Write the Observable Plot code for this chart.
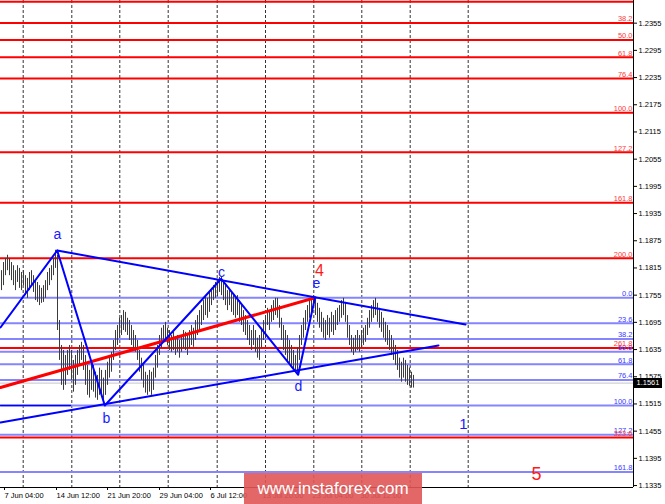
<!DOCTYPE html>
<html><head><meta charset="utf-8">
<script src="https://cdn.jsdelivr.net/npm/d3@7"></script>
<script src="https://cdn.jsdelivr.net/npm/@observablehq/plot@0.6"></script>
<style>
body{margin:0;background:#fff;}
#wrap{position:relative;width:665px;height:504px;overflow:hidden;font-family:"Liberation Sans",Arial,sans-serif;}
#wm{position:absolute;left:244px;top:473px;width:178px;height:31px;background:rgba(224,86,86,0.9);color:#fff;font-size:17px;line-height:31px;text-align:center;}
#pbox{position:absolute;left:634px;width:28px;height:10px;background:#000;color:#fff;font-size:7.5px;line-height:10px;text-align:center;}
</style></head>
<body><div id="wrap"></div>
<script>
// ---- price bars (H4), highs and lows ----
const barHigh = [1.1809,1.1827,1.1836,1.1843,1.1836,1.1827,1.1820,1.1809,1.1820,1.1814,1.1805,1.1809,1.1798,1.1792,1.1805,1.1809,1.1798,1.1787,1.1783,1.1776,1.1770,1.1776,1.1787,1.1805,1.1814,1.1820,1.1836,1.1854,1.1843,1.1699,1.1644,1.1633,1.1622,1.1633,1.1644,1.1633,1.1611,1.1622,1.1633,1.1644,1.1651,1.1644,1.1622,1.1600,1.1589,1.1607,1.1600,1.1585,1.1578,1.1594,1.1589,1.1572,1.1589,1.1607,1.1616,1.1629,1.1655,1.1677,1.1688,1.1704,1.1710,1.1721,1.1717,1.1704,1.1699,1.1688,1.1677,1.1666,1.1655,1.1633,1.1616,1.1600,1.1585,1.1578,1.1589,1.1585,1.1594,1.1622,1.1644,1.1666,1.1682,1.1688,1.1695,1.1682,1.1677,1.1666,1.1673,1.1660,1.1666,1.1655,1.1666,1.1677,1.1673,1.1666,1.1677,1.1688,1.1682,1.1699,1.1710,1.1721,1.1732,1.1743,1.1754,1.1748,1.1761,1.1770,1.1776,1.1783,1.1787,1.1794,1.1794,1.1783,1.1776,1.1765,1.1770,1.1761,1.1754,1.1748,1.1754,1.1743,1.1732,1.1721,1.1710,1.1699,1.1688,1.1677,1.1688,1.1677,1.1660,1.1666,1.1682,1.1699,1.1710,1.1726,1.1717,1.1732,1.1743,1.1748,1.1748,1.1732,1.1704,1.1688,1.1677,1.1666,1.1655,1.1644,1.1633,1.1622,1.1638,1.1666,1.1688,1.1704,1.1721,1.1732,1.1743,1.1752,1.1754,1.1748,1.1737,1.1726,1.1717,1.1704,1.1699,1.1710,1.1704,1.1717,1.1710,1.1721,1.1726,1.1732,1.1743,1.1748,1.1739,1.1710,1.1688,1.1666,1.1660,1.1666,1.1677,1.1666,1.1677,1.1682,1.1688,1.1704,1.1721,1.1732,1.1743,1.1748,1.1737,1.1726,1.1717,1.1704,1.1695,1.1688,1.1677,1.1666,1.1655,1.1644,1.1633,1.1616,1.1607,1.1616,1.1611,1.1600,1.1594,1.1585,1.1578];
const barLow = [1.1765,1.1776,1.1798,1.1809,1.1798,1.1787,1.1776,1.1765,1.1783,1.1770,1.1765,1.1776,1.1754,1.1748,1.1765,1.1776,1.1761,1.1743,1.1739,1.1732,1.1737,1.1739,1.1748,1.1765,1.1776,1.1787,1.1798,1.1814,1.1677,1.1611,1.1556,1.1545,1.1556,1.1578,1.1589,1.1567,1.1541,1.1556,1.1578,1.1600,1.1611,1.1589,1.1556,1.1534,1.1528,1.1545,1.1541,1.1528,1.1523,1.1534,1.1530,1.1516,1.1534,1.1556,1.1572,1.1585,1.1611,1.1633,1.1644,1.1660,1.1666,1.1677,1.1673,1.1666,1.1655,1.1644,1.1633,1.1629,1.1611,1.1585,1.1567,1.1550,1.1539,1.1534,1.1541,1.1534,1.1545,1.1572,1.1594,1.1622,1.1638,1.1651,1.1655,1.1644,1.1633,1.1629,1.1633,1.1622,1.1629,1.1616,1.1629,1.1638,1.1633,1.1622,1.1638,1.1644,1.1640,1.1655,1.1666,1.1677,1.1688,1.1699,1.1710,1.1704,1.1717,1.1732,1.1743,1.1748,1.1752,1.1761,1.1754,1.1743,1.1732,1.1721,1.1732,1.1717,1.1710,1.1704,1.1710,1.1695,1.1688,1.1673,1.1666,1.1655,1.1644,1.1633,1.1644,1.1629,1.1616,1.1611,1.1638,1.1655,1.1666,1.1688,1.1677,1.1695,1.1699,1.1710,1.1704,1.1682,1.1655,1.1633,1.1622,1.1607,1.1600,1.1594,1.1589,1.1585,1.1582,1.1611,1.1644,1.1660,1.1677,1.1695,1.1704,1.1717,1.1726,1.1710,1.1695,1.1682,1.1673,1.1660,1.1655,1.1666,1.1660,1.1673,1.1666,1.1677,1.1688,1.1695,1.1704,1.1710,1.1695,1.1660,1.1644,1.1629,1.1622,1.1629,1.1633,1.1629,1.1638,1.1644,1.1651,1.1666,1.1682,1.1695,1.1704,1.1710,1.1695,1.1682,1.1673,1.1660,1.1651,1.1644,1.1633,1.1622,1.1611,1.1600,1.1589,1.1572,1.1563,1.1572,1.1563,1.1556,1.1554,1.1550,1.1550];
const lastPrice = 1.1561;

// ---- axes ----
const yTicks = [1.1335,1.1395,1.1455,1.1515,1.1575,1.1635,1.1695,1.1755,1.1815,1.1875,1.1935,1.1995,1.2055,1.2115,1.2175,1.2235,1.2295,1.2355];
const xTickBars = [2,28,53.5,79.5,105,131,156,180];
const xTickLabels = ["7 Jun 04:00","14 Jun 12:00","21 Jun 20:00","29 Jun 04:00","6 Jul 12:00","13 Jul 20:00","23 Jul 04:00","30 Jul 12:00"];
const gridBars = [11.35,35.65,59.65,83.85,108.35,132.5,156.65,180.65,204.85,233.85];
const xDomain = [0,316.5];
const yDomain = [1.13307,1.2405];

// ---- Fibonacci levels ----
const fibRedLabels = ["23.6","38.2","50.0","61.8","76.4","100.0","127.2","161.8","200.0","261.8","323.6"];
const fibRedPrices = [1.24023,1.23555,1.23177,1.22798,1.22330,1.21573,1.20701,1.19591,1.18366,1.16384,1.14410];
const fibBlueLabels = ["0.0","23.6","38.2","50.0","61.8","76.4","100.0","127.2","161.8"];
const fibBluePrices = [1.17492,1.16931,1.16584,1.16304,1.16024,1.15677,1.15116,1.14470,1.13648];

// ---- wave structure ----
const waveBars   = [0, 28.35, 52.15, 110.35, 148.85, 157.25];
const wavePrices = [1.16837, 1.18535, 1.15116, 1.17911, 1.15793, 1.17492];
const upperTrendBars = [28.35, 232.5];
const upperTrendPrices = [1.18535, 1.16903];
const lowerTrendBars = [0, 219];
const lowerTrendPrices = [1.14741, 1.16440];
const redTrendBars = [0, 157.25];
const redTrendPrices = [1.15513, 1.17492];
const baseBars = [0, 35];
const basePrices = [1.15116, 1.15116];

const labelText  = ["a","b","c","d","e","4","1","5"];
const labelBars  = [28.5, 53, 110.5, 149, 158, 159.5, 231.5, 268];
const labelPrices= [1.18888, 1.14829, 1.18050, 1.15535, 1.17807, 1.18094, 1.14697, 1.13594];
const labelColors= ["#1a1aff","#1a1aff","#1a1aff","#1a1aff","#1a1aff","#ff1a1a","#1a1aff","#ff1a1a"];
const labelSizes = [14,14,14,14,14,16,15,18];

// ---- build tables ----
const bars = barHigh.map((h,i)=>({i:i+0.5, high:h, low:barLow[i]}));
const fibRed = fibRedLabels.map((l,i)=>({label:l, price:fibRedPrices[i]}));
const fibBlue = fibBlueLabels.map((l,i)=>({label:l, price:fibBluePrices[i]}));
const pts = (xs,ys)=>xs.map((x,i)=>({x, y:ys[i]}));
const labels = labelText.map((t,i)=>({t, x:labelBars[i], y:labelPrices[i], c:labelColors[i], s:labelSizes[i]}));
const xLabelMap = new Map(xTickBars.map((b,i)=>[b,xTickLabels[i]]));

const chart = Plot.plot({
  width:665, height:504,
  marginLeft:0, marginRight:32, marginTop:0, marginBottom:17,
  style:{fontFamily:"Liberation Sans, Arial, sans-serif", fontSize:"7.5px", background:"#fff", color:"#000"},
  x:{domain:xDomain, axis:null},
  y:{domain:yDomain, axis:null},
  marks:[
    Plot.ruleX(gridBars, {stroke:"#333", strokeDasharray:"3,2", strokeWidth:1}),
    Plot.ruleY(fibBlue, {y:"price", stroke:"#8585ff", strokeWidth:2}),
    Plot.ruleY(fibRed, {y:"price", stroke:"#ff0000", strokeWidth:2}),
    Plot.ruleY([lastPrice], {stroke:"#c4c4c4", strokeWidth:1}),
    Plot.text(fibBlue, {y:"price", text:"label", frameAnchor:"right", textAnchor:"end", dx:-1, dy:-4, fill:"#3a3aff", fontSize:7.5}),
    Plot.text(fibRed, {y:"price", text:"label", frameAnchor:"right", textAnchor:"end", dx:-1, dy:-4, fill:"#ff3a3a", fontSize:7.5}),
    Plot.ruleX(bars, {x:"i", y1:"low", y2:"high", stroke:"#3c3c3c", strokeWidth:1}),
    Plot.line(pts(redTrendBars, redTrendPrices), {x:"x", y:"y", stroke:"#ff0000", strokeWidth:3}),
    Plot.line(pts(baseBars, basePrices), {x:"x", y:"y", stroke:"#0000ff", strokeWidth:1.5}),
    Plot.line(pts(lowerTrendBars, lowerTrendPrices), {x:"x", y:"y", stroke:"#0000ff", strokeWidth:2}),
    Plot.line(pts(upperTrendBars, upperTrendPrices), {x:"x", y:"y", stroke:"#0000ff", strokeWidth:2}),
    Plot.line(pts(waveBars, wavePrices), {x:"x", y:"y", stroke:"#0000ff", strokeWidth:2}),
    Plot.text(labels, {x:"x", y:"y", text:"t", fill:"c", fontSize:"s"}),
    Plot.ruleY([yDomain[0]], {stroke:"#000", strokeWidth:1}),
    Plot.ruleX([xDomain[1]], {stroke:"#000", strokeWidth:1}),
    Plot.axisY({anchor:"right", ticks:yTicks, tickFormat:d=>d.toFixed(4), tickSize:3, tickPadding:2, fontSize:7.5}),
    Plot.axisX({anchor:"bottom", ticks:xTickBars, tickFormat:d=>xLabelMap.get(d), tickSize:3, tickPadding:2, textAnchor:"start", dx:0, fontSize:7.5})
  ]
});
const wrap = document.getElementById("wrap");
wrap.appendChild(chart);
const yScale = chart.scale("y");
const pbox = document.createElement("div");
pbox.id = "pbox";
pbox.textContent = lastPrice.toFixed(4);
pbox.style.top = (yScale.apply(lastPrice) - 5) + "px";
wrap.appendChild(pbox);
const wm = document.createElement("div");
wm.id = "wm";
wm.textContent = "www.instaforex.com";
wrap.appendChild(wm);
</script>
</body></html>
